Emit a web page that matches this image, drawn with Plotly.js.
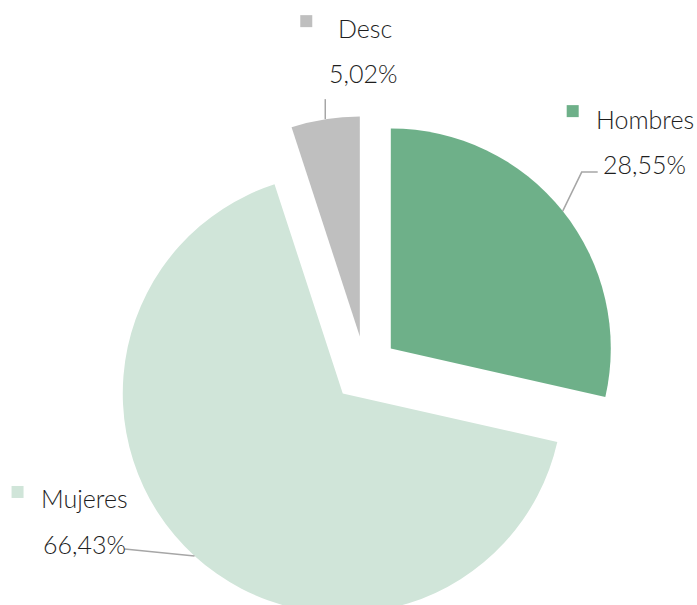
<!DOCTYPE html>
<html>
<head>
<meta charset="utf-8">
<script src="https://cdn.plot.ly/plotly-3.0.1.min.js"></script>
<style>
  html, body { margin: 0; padding: 0; overflow: hidden; background: #fff; }
  #chart { width: 697px; height: 622px; }
</style>
</head>
<body>
<div id="chart"></div>
<script>
// ---- data ----
var categories = ["Hombres", "Mujeres", "Desc"];
var percents = [28.55, 66.43, 5.02];
var colors = ["#6eb089", "#d0e5d9", "#bfbfbf"];

// ---- layout constants ----
var W = 697, H = 622;
var M = { l: 33, r: 0, t: 116, b: 0 };
var PULL = 0.15;
var FONT = "Lato, 'Source Sans Pro', 'Open Sans', sans-serif";
var TXT = "#1e1e1e";
var LINE = "#a6a6a6";

// label offsets relative to each slice's outer-arc midpoint (pixels)
var labelStyle = {
  "Hombres": { leader: [[0,0],[19,-39],[35,-39]], pct: [38,-47,'left'], cat: [31,-92,'left'], sq: [10,-100] },
  "Mujeres": { leader: [[0,0],[-70,-7]], pct: [-154,-12,'left'], cat: [-156,-58,'left'], sq: [-177,-64] },
  "Desc":    { leader: [[0,0],[0,-20]], pct: [2,-46,'left'], cat: [11,-91,'left'], sq: [-19,-98] }
};

var pw = W - M.l - M.r, ph = H - M.t - M.b;
var cx = M.l + pw / 2, cy = M.t + ph / 2;
var R = Math.min(pw, ph) / (2 + 2 * PULL);
function px2x(x) { return (x - M.l) / pw; }
function px2y(y) { return 1 - (y - M.t) / ph; }

var total = percents.reduce(function (a, b) { return a + b; }, 0);
var annotations = [], shapes = [];
var cum = 0;
categories.forEach(function (cat, i) {
  var frac = percents[i] / total;
  var mid = (cum + frac / 2) * 2 * Math.PI; // clockwise from 12 o'clock
  cum += frac;
  var dx = Math.sin(mid), dy = -Math.cos(mid);
  var mx = cx + dx * R * (1 + PULL), my = cy + dy * R * (1 + PULL);
  var st = labelStyle[cat];
  // leader line
  var path = st.leader.map(function (p, k) {
    return (k ? 'L' : 'M') + px2x(mx + p[0]) + ',' + px2y(my + p[1]);
  }).join(' ');
  shapes.push({ type: 'path', xref: 'paper', yref: 'paper', path: path,
    line: { color: LINE, width: 1.5 } });
  // legend square
  var s = 6;
  shapes.push({ type: 'rect', xref: 'paper', yref: 'paper',
    x0: px2x(mx + st.sq[0] - s), x1: px2x(mx + st.sq[0] + s),
    y0: px2y(my + st.sq[1] + s), y1: px2y(my + st.sq[1] - s),
    fillcolor: colors[i], line: { width: 0 } });
  // texts
  annotations.push({ xref: 'paper', yref: 'paper', showarrow: false,
    x: px2x(mx + st.cat[0]), y: px2y(my + st.cat[1]), xanchor: st.cat[2], yanchor: 'middle',
    text: cat, font: { family: FONT, size: 25, color: TXT, weight: 300 } });
  annotations.push({ xref: 'paper', yref: 'paper', showarrow: false,
    x: px2x(mx + st.pct[0]), y: px2y(my + st.pct[1]), xanchor: st.pct[2], yanchor: 'middle',
    text: percents[i].toFixed(2).replace('.', ',') + '%',
    font: { family: FONT, size: 25, color: TXT, weight: 300 } });
});

var trace = {
  type: 'pie',
  labels: categories,
  values: percents,
  sort: false,
  direction: 'clockwise',
  rotation: 0,
  pull: PULL,
  textinfo: 'none',
  hoverinfo: 'label+percent',
  marker: { colors: colors, line: { width: 0 } }
};

Plotly.newPlot('chart', [trace], {
  width: W, height: H,
  margin: M,
  showlegend: false,
  paper_bgcolor: '#fff',
  annotations: annotations,
  shapes: shapes
}, { displayModeBar: false, staticPlot: true });
</script>
</body>
</html>
